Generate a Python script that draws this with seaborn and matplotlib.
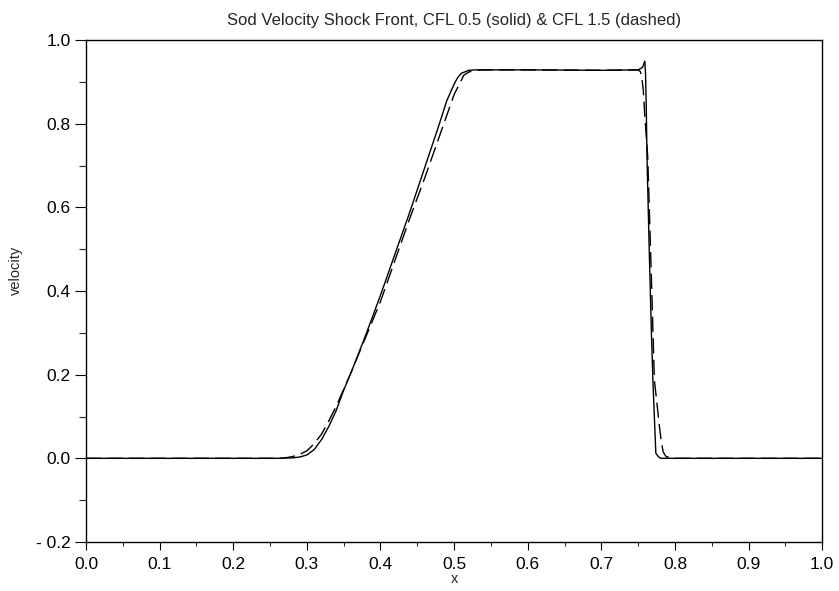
import matplotlib
matplotlib.use("Agg")
import matplotlib.pyplot as plt
import seaborn as sns
import pandas as pd
from matplotlib.ticker import MultipleLocator, FuncFormatter

# CFL 0.5 (solid)
x_solid = [0.0, 0.26, 0.28, 0.29, 0.30, 0.31, 0.32, 0.33, 0.34, 0.35, 0.36, 0.38,
           0.40, 0.42, 0.44, 0.46, 0.48, 0.49, 0.50, 0.505, 0.51, 0.52, 0.53,
           0.60, 0.70, 0.75, 0.756, 0.759, 0.760, 0.761, 0.762, 0.765, 0.768,
           0.770, 0.774, 0.778, 0.781, 0.80, 1.0]
v_solid = [0.0, 0.0, 0.001, 0.003, 0.008, 0.021, 0.045, 0.077, 0.115, 0.163, 0.205, 0.295,
           0.39, 0.49, 0.59, 0.695, 0.80, 0.855, 0.895, 0.911, 0.921, 0.928, 0.929,
           0.929, 0.928, 0.929, 0.935, 0.95, 0.92, 0.84, 0.72, 0.50, 0.30,
           0.187, 0.012, 0.003, 0.0, 0.0, 0.0]

# CFL 1.5 (dashed)
x_dashed = [0.0, 0.26, 0.27, 0.28, 0.29, 0.30, 0.31, 0.32, 0.33, 0.34, 0.35, 0.36,
            0.38, 0.40, 0.42, 0.44, 0.46, 0.48, 0.484, 0.49, 0.50, 0.51, 0.513,
            0.52, 0.53, 0.54, 0.60, 0.70, 0.750, 0.753, 0.755, 0.757, 0.759,
            0.763, 0.768, 0.772, 0.775, 0.778, 0.781, 0.784, 0.788, 0.795, 0.80, 1.0]
v_dashed = [0.0, 0.0, 0.001, 0.004, 0.009, 0.018, 0.035, 0.058, 0.09, 0.125, 0.165, 0.205,
            0.29, 0.375, 0.475, 0.575, 0.67, 0.77, 0.79, 0.82, 0.87, 0.905, 0.916,
            0.924, 0.928, 0.929, 0.929, 0.928, 0.929, 0.925, 0.91, 0.88, 0.82,
            0.72, 0.43, 0.187, 0.14, 0.09, 0.045, 0.015, 0.004, 0.001, 0.0, 0.0]

title = "Sod Velocity Shock Front, CFL 0.5 (solid) & CFL 1.5 (dashed)"

sns.set_style("ticks")
plt.rcParams["font.family"] = ["Liberation Sans", "DejaVu Sans"]

fig = plt.figure(figsize=(8.39, 5.91), dpi=100)
ax = fig.add_axes([0.1025, 0.083, 0.8775, 0.849])

df_s = pd.DataFrame({"x": x_solid, "v": v_solid})
df_d = pd.DataFrame({"x": x_dashed, "v": v_dashed})
sns.lineplot(data=df_s, x="x", y="v", ax=ax, color="black", lw=1.0)
sns.lineplot(data=df_d, x="x", y="v", ax=ax, color="black", lw=1.0, dashes=False)
ax.lines[1].set_dashes([11, 4.5])

ax.set_xlim(0, 1.0)
ax.set_ylim(-0.2, 1.0)
ax.xaxis.set_major_locator(MultipleLocator(0.1))
ax.xaxis.set_minor_locator(MultipleLocator(0.05))
ax.yaxis.set_major_locator(MultipleLocator(0.2))
ax.yaxis.set_minor_locator(MultipleLocator(0.1))

def yfmt(v, pos):
    s = f"{abs(v):.1f}"
    return ("- " + s) if v < -1e-9 else s

ax.yaxis.set_major_formatter(FuncFormatter(yfmt))
ax.xaxis.set_major_formatter(FuncFormatter(lambda v, p: f"{v:.1f}"))

ax.tick_params(axis="x", which="major", direction="out", length=5.5, width=0.8, labelsize=12.5, pad=5.5, colors="black")
ax.tick_params(axis="x", which="minor", direction="out", length=3.1, width=0.8)
ax.tick_params(axis="y", which="major", direction="out", length=7.9, width=0.8, labelsize=12.5, pad=3, colors="black")
ax.tick_params(axis="y", which="minor", direction="out", length=5.0, width=0.8)

for sp in ax.spines.values():
    sp.set_visible(True)
    sp.set_color("black")
    sp.set_linewidth(1.0)

ax.set_xlabel("x", fontsize=10.5)
ax.xaxis.set_label_coords(0.5, -0.06)
ax.set_ylabel("velocity", fontsize=10.5)
ax.yaxis.set_label_coords(-0.085, 0.541)
ax.set_title(title, fontsize=12, pad=11)

fig.savefig("out.png", dpi=100)
